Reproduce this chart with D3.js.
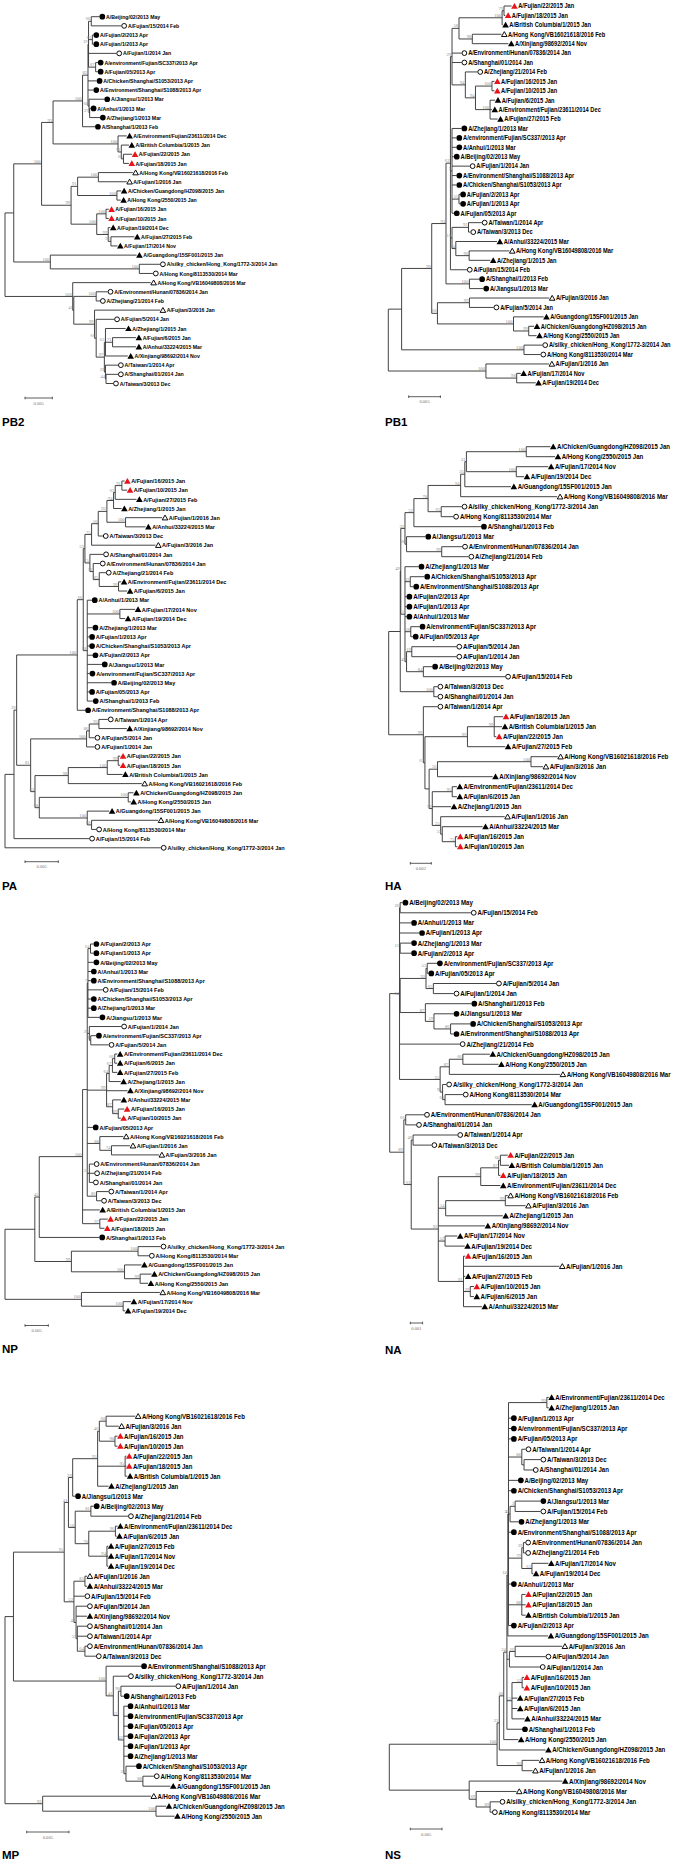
<!DOCTYPE html>
<html><head><meta charset="utf-8">
<script src="https://cdn.jsdelivr.net/npm/d3@7"></script>
<style>body{margin:0;background:#fff}</style>
</head><body><svg id="c" width="675" height="1861"></svg>
<script>
// ---------- DATA ----------
// strain code, label, group
const strains = [
["BJ02","A/Beijing/02/2013 May","c2013"],["FJ2","A/Fujian/2/2013 Apr","c2013"],["FJ1","A/Fujian/1/2013 Apr","c2013"],
["SC337","A/environment/Fujian/SC337/2013 Apr","c2013"],["FJ05","A/Fujian/05/2013 Apr","c2013"],
["S1053","A/Chicken/Shanghai/S1053/2013 Apr","c2013"],["S1088","A/Environment/Shanghai/S1088/2013 Apr","c2013"],
["JS1","A/Jiangsu/1/2013 Mar","c2013"],["AH1","A/Anhui/1/2013 Mar","c2013"],["ZJ1","A/Zhejiang/1/2013 Mar","c2013"],
["SH1","A/Shanghai/1/2013 Feb","c2013"],
["FJ15","A/Fujian/15/2014 Feb","c2014"],["FJ1b","A/Fujian/1/2014 Jan","c2014"],["FJ5","A/Fujian/5/2014 Jan","c2014"],
["HN","A/Environment/Hunan/07836/2014 Jan","c2014"],["ZJ21","A/Zhejiang/21/2014 Feb","c2014"],
["TW1","A/Taiwan/1/2014 Apr","c2014"],["SH01","A/Shanghai/01/2014 Jan","c2014"],["TW3","A/Taiwan/3/2013 Dec","c2014"],
["SK","A/silky_chicken/Hong_Kong/1772-3/2014 Jan","c2014"],["HK81","A/Hong Kong/8113530/2014 Mar","c2014"],
["E236","A/Environment/Fujian/23611/2014 Dec","t2015"],["BC","A/British Columbia/1/2015 Jan","t2015"],
["HZ","A/Chicken/Guangdong/HZ098/2015 Jan","t2015"],["HK25","A/Hong Kong/2550/2015 Jan","t2015"],
["FJ19","A/Fujian/19/2014 Dec","t2015"],["FJ27","A/Fujian/27/2015 Feb","t2015"],["FJ17","A/Fujian/17/2014 Nov","t2015"],
["GD15","A/Guangdong/15SF001/2015 Jan","t2015"],["ZJ15","A/Zhejiang/1/2015 Jan","t2015"],["FJ6","A/Fujian/6/2015 Jan","t2015"],
["AH33","A/Anhui/33224/2015 Mar","t2015"],["XJ","A/Xinjiang/98692/2014 Nov","t2015"],
["FJ16","A/Fujian/16/2015 Jan","fujian2015"],["FJ10","A/Fujian/10/2015 Jan","fujian2015"],
["FJ22","A/Fujian/22/2015 Jan","fujian2015"],["FJ18","A/Fujian/18/2015 Jan","fujian2015"],
["VB18","A/Hong Kong/VB16021618/2016 Feb","t2016"],["FJ1c","A/Fujian/1/2016 Jan","t2016"],
["VB08","A/Hong Kong/VB16049808/2016 Mar","t2016"],["FJ3","A/Fujian/3/2016 Jan","t2016"]
];
const panelNames = ["PB2","PB1","PA","HA","NP","NA","MP","NS"];
const scaleBarValues = [0.005,0.005,0.005,0.002,0.005,0.001,0.005,0.005];
const lengthUnit = 0.001; // branch lengths below are in units of 0.001 substitutions/site
// clade definitions: name=(child:length,...)bootstrap
const treePB2 = [
"cc=(BJ02:1.5,FJ15:5.5)66","cd=(FJ2:0.2,FJ1:0.2)61","ce=(SC337:0.4,FJ05:0.4)67",
"cb=(cc:0.5,cd:0.7,FJ1b:5.1,ce:1.3)19","cg=(AH1:0.2,ZJ1:1.9)27","cf=(JS1:2.8,cg:0.1)60",
"ca=(cb:0.1,S1053:1.6,S1088:1.0,cf:0.2)82","c=(ca:1.0,SH1:2.3)100",
"f=(FJ22:1.6,FJ18:1.0)66","e=(BC:1.4,f:0.4)71","d=(E236:1.6,e:0.6)100","b=(c:5.4,d:11.9)93",
"j=(VB18:6.3,FJ1c:5.2)100","k=(HZ:0.8,HK25:0.7)100","h=(j:3.8,k:7.2)91",
"l=(FJ16:0.5,FJ10:0.5)100","n=(FJ27:4.3,FJ17:1.2)91","m=(FJ19:0.4,n:0.5)99","i=(l:1.7,m:2.1)100",
"g=(h:1.2,i:4.7)99","a=(b:2.1,g:5.4)100","q=(SK:3.8,HK81:2.5)100","p=(GD15:15.8,q:16.3)100",
"u=(a:5.1,p:6.7)","u2=(HN:2.1,ZJ21:0.7)100","z1=(FJ6:4.3,AH33:4.3)71","ya=(ZJ15:3.7,z1:1.3,XJ:4.1)63",
"yc=(SH01:2.2,TW3:1.3)44","yb=(TW1:2.3,yc:0.1)29","y=(ya:0.2,yb:0.2)97","x=(FJ5:3.3,y:1.5)66",
"w=(FJ3:12.0,x:0.3)99","t=(u2:4.1,w:3.8)41","lo=(VB08:14.3,t:0.2)100","root=(u:1.6,lo:12.4)"];
const treePB1 = [
"kb=(FJ22:1.2,FJ18:0.2)79","ka=(kb:0.3,BC:0.1)100","kc=(VB18:4.6,XJ:5.7)98","k=(ka:6.8,kc:2.1)58",
"kd=(FJ16:0.4,FJ10:0.4)100","ke=(FJ6:0.8,E236:0.3,FJ27:1.2)100","kf=(kd:2.6,ke:2.3)94","kg=(ZJ21:1.9,kf:1.6)94",
"pa=(k:1.1,HN:1.5,SH01:1.5,kg:2.1)29","kh=(FJ2:0.2,FJ1:0.2)55",
"pb=(ZJ1:1.5,SC337:0.7,AH1:0.7,BJ02:0.3,FJ1b:2.8,S1088:0.7,S1053:0.7,kh:1.1,FJ05:0.3)5",
"kt=(TW1:2.1,TW3:0.3)93","kv=(VB08:6.35,ZJ15:3.35)96","kw=(AH33:6.5,kv:2.1)24","pc=(kt:2.6,kw:0.6)11",
"big=(pa:0.25,pb:0.25,pc:0.25,FJ15:2.6)62","n6=(SH1:1.55,JS1:2.2)100","n4=(big:0.7,n6:3.7)93",
"n7=(FJ3:12.6,FJ5:3.8)99","n9=(HZ:0.85,HK25:1.25)99","n8=(GD15:4.75,n9:2.4)100","n5=(n7:5.05,n8:12.0)60",
"n2=(n4:2.25,n5:0.9)99","n3=(SK:2.9,HK81:2.6)100","n1=(n2:4.75,n3:19.3)",
"lw=(FJ17:0.65,FJ19:3.0)98","lo=(FJ1c:9.95,lw:4.85)100","root=(n1:2.1,lo:15.4)"];
const treePA = [
"ma=(FJ16:0.4,FJ10:0.8)91","mb=(ma:1.0,FJ27:3.2)63","mc=(mb:0.25,ZJ15:1.2)94","md=(FJ1c:5.5,AH33:3.0)100",
"me=(mc:1.0,md:2.8)92","mf=(me:1.3,TW3:0.7)56","mg=(mf:1.0,FJ3:9.6)75",
"mh=(E236:0.4,FJ6:1.3)99","mi=(ZJ21:1.0,mh:2.9)85","mj=(HN:1.0,mi:0.9)72","mk=(SH01:2.0,mj:0.5)15",
"ml=(mg:1.0,mk:0.75)53","mm=(FJ17:2.3,FJ19:0.8)100",
"mn=(AH1:0.7,mm:4.9,ZJ1:0.8,FJ1:0.3,S1053:0.3,FJ2:0.8,JS1:2.2,SC337:0.35,BJ02:3.6,FJ05:0.3,SH1:0.85)58",
"mo=(ml:0.25,mn:0.6)66","big=(mo:0.9,S1088:1.2)100",
"pc=(TW1:1.35,XJ:4.2)92","pb=(pc:1.45,FJ5:0.8)86","pa=(pb:0.4,FJ1b:1.2)100",
"pf=(FJ22:0.3,FJ18:0.3)99","pe=(pf:1.65,BC:2.3)100","pd=(pe:5.85,VB18:11.05)98",
"pg=(HZ:0.8,HK25:0.4)100","pi=(VB08:10.0,HK81:0.7)68","ph=(GD15:3.3,pi:0.65)100",
"n5=(pg:13.35,ph:7.2)68","q=(pd:5.0,n5:0.65)63","n3=(pa:8.4,q:0.65)81","n2=(big:9.1,n3:2.1)39",
"n1=(n2:0.4,FJ15:11.3)","root=(n1:1.35,SK:23.4)"];
const treeHA = [
"xa=(HZ:2.3,HK25:2.75)100","xb=(FJ17:3.05,FJ19:0.75)100","xc=(xa:5.7,xb:4.75)31","xd=(xc:0.15,GD15:4.4)25",
"xe=(xd:0.4,VB08:9.2)94","xf=(SK:1.95,HK81:1.15)95","xg=(xe:3.1,xf:1.25)70","xx=(xg:1.35,SH1:6.4)52",
"yb=(HN:1.95,ZJ21:2.55)99","ya=(JS1:1.8,yb:3.35)26","v=(xx:0.85,ya:0.15)32",
"wa=(S1053:1.35,S1088:0.3)32","wb=(SC337:0.85,FJ05:0.2)58","wd=(FJ5:4.25,FJ1b:4.25)19",
"we=(BJ02:0.85,FJ15:7.8)84","wc=(wd:0.5,we:1.6)49",
"w=(ZJ1:1.3,wa:0.5,FJ2:0.15,FJ1:0.15,AH1:0.15,wb:0.55,wc:0.15)5","ua=(v:0.4,w:0.4)49",
"wf=(TW3:0.35,SH01:0.35)100","u=(ua:0.05,wf:3.2)",
"ld=(FJ18:0.85,BC:0.75,FJ22:0.2)99","lb=(ld:2.55,FJ27:3.6)99","lf=(VB18:2.55,FJ3:1.15)100",
"le=(lf:8.9,XJ:5.25)56","lh=(E236:0.45,FJ6:0.45)95","lk=(FJ16:0.2,FJ10:0.2)75","lj=(AH33:3.85,lk:1.25)55",
"li=(FJ1c:6.1,lj:0.15)35","lg=(lh:1.9,ZJ15:1.8,li:0.8)79","lc=(le:0.8,lg:0.3)","la=(lb:4.05,lc:0.4)67",
"l=(TW1:1.35,la:0.15)99","root=(u:1.1,l:3.3)"];
const treeNP = [
"ga=(FJ2:0.65,FJ1:0.65)64","gb=(ga:0.55,BJ02:1.2,AH1:0.65,S1088:0.65,FJ15:3.2,S1053:0.65,ZJ1:0.65,JS1:2.5)7",
"gc=(SC337:1.15,FJ5:3.85)8","gd=(FJ1b:6.85,gc:0.3)29",
"ge=(E236:0.55,FJ6:0.55)66","gf=(ge:0.5,FJ27:1.05)67","gg=(gf:0.7,ZJ15:2.5)64",
"gh=(FJ16:1.3,FJ10:0.55)89","gi=(AH33:1.8,gh:1.2)87","gj=(gg:0.55,XJ:4.5,gi:1.3)99",
"gk=(FJ1c:4.0,FJ3:10.2)74","gl=(VB18:5.05,gk:2.5)88","gm=(HN:0.95,ZJ21:1.05,SH01:0.8)21",
"gn=(TW1:2.55,TW3:1.0)86","gs=(gb:0.15,gd:0.45,gj:4.15,FJ05:1.2,gl:2.7,gm:0.45,gn:2.0)",
"gx=(FJ22:1.7,FJ18:1.0)97","g0=(gs:1.0,BC:3.7,gx:3.7)100","b=(g0:9.3,SH1:12.9)45",
"cs=(SK:4.85,HK81:2.35)100","ch=(HZ:2.45,HK25:1.7)99","cg=(GD15:3.65,ch:3.35)100","c=(cs:14.3,cg:11.4)99",
"a=(b:0.95,c:7.85)","lw=(FJ17:1.7,FJ19:0.45)100","lo=(VB08:16.85,lw:8.95)100","root=(a:6.4,lo:16.4)"];
const treeNA = [
"ua=(BJ02:0.2,FJ15:5.75)26","ub=(ZJ1:0.9,FJ2:0.9)15","nb=(SC337:0.8,FJ05:0.1)55","nc=(FJ5:5.1,FJ1b:1.65)65",
"na=(nb:0.1,nc:0.6)92","nf=(S1053:1.6,S1088:0.25)86","ne=(JS1:1.6,nf:1.35)59","nd=(SH1:3.75,ne:0.7)87",
"uc=(na:2.1,nd:2.05)24","ni=(HZ:2.2,HK25:2.9)66","nh=(ni:1.1,VB08:9.0)87","nk=(HK81:1.45,GD15:7.05)60",
"nj=(SK:0.3,nk:0.2)95","ng=(nh:0.75,nj:0.2)35",
"u=(ua:0.05,AH1:0.95,FJ1:1.6,ub:0.05,uc:0.05,ZJ21:4.9,ng:3.3)",
"la=(HN:1.5,SH01:0.85)66","lc=(TW1:3.6,TW3:1.5)49","ll=(FJ22:0.6,BC:0.7)60","lk=(ll:0.15,FJ18:0.15)87",
"le=(lk:1.45,E236:1.6)99","lg=(VB18:0.2,FJ3:1.65)99","lf=(lg:4.85,ZJ15:4.65)54","lh=(FJ17:1.0,FJ19:1.6)52",
"lj=(FJ10:0.3,FJ6:0.3)29","li=(FJ16:0.15,FJ1c:7.8,FJ27:0.15,lj:0.55,AH33:1.5)91",
"ld=(le:3.45,lf:0.6,XJ:3.8,lh:0.55,li:2.05)92","lb=(lc:0.15,ld:2.2)63","l=(la:0.15,lb:0.6)89",
"root=(u:0.8,l:1.15)"];
const treeMP = [
"md=(VB18:3.45,FJ3:1.5)60","me=(FJ16:0.3,FJ10:0.3)90","mb=(md:0.8,me:1.85)46","mc=(FJ22:0.15,FJ18:0.15,BC:0.25)95",
"ma=(mb:0.2,mc:3.25,ZJ15:1.3)93","vb=(ma:2.95,JS1:0.3)29","qa=(BJ02:0.35,ZJ21:4.4)81",
"qc=(E236:0.25,FJ6:0.15)96","qd=(FJ27:0.15,FJ17:0.15,FJ19:0.15)94","qb=(qc:3.15,qd:2.15)70",
"vc=(qa:1.85,qb:1.6)50","va=(vb:0.5,vc:0.8)41","pb=(FJ1c:0.25,AH33:0.25)85","pe=(HN:0.25,TW3:1.3)64",
"pd=(SH01:1.15,TW1:1.15,pe:0.9)52","pc=(FJ5:1.3,XJ:1.3,pd:0.15)43","pa=(pb:1.3,FJ15:1.25,pc:0.25)52",
"u=(va:0.5,pa:1.15)95","tf=(HK81:1.3,GD15:3.25)88","te=(S1053:1.2,tf:2.0)23",
"td=(AH1:0.45,SC337:0.45,FJ05:0.45,FJ2:0.45,FJ1:0.45,ZJ1:0.45,te:0.25)42","tc=(FJ1b:6.45,SH1:0.35)90",
"tb=(tc:0.3,td:0.65)31","ta=(SK:1.75,tb:0.6)41","t0=(S1088:4.15,ta:0.85)100","x=(u:6.0,t0:10.95)",
"rb=(HZ:1.2,HK25:2.2)100","ra=(VB08:12.8,rb:13.4)92","root=(x:1.0,ra:4.45)"];
const treeNS = [
"ka=(E236:0.3,ZJ15:0.3)99","kc=(TW3:2.6,SH01:1.4)","kb=(TW1:0.6,kc:0.35)88","ke=(JS1:4.0,FJ15:4.0)3",
"kd=(ke:0.8,ZJ1:1.35)37","kg=(HN:0.3,ZJ21:0.3)39","kh=(FJ17:2.6,FJ19:0.2)61","kf=(kg:0.25,kh:1.6)79",
"ki=(FJ22:0.6,FJ18:0.6,BC:0.6)88",
"nq=(ka:6.05,FJ1:0.4,SC337:0.4,FJ05:0.4,kb:2.1,BJ02:1.5,S1053:0.4,kd:0.25,S1088:0.4,kf:2.1,AH1:0.4,ki:2.1,FJ2:0.4)4",
"nd=(nq:0.1,GD15:6.35)10","nr=(FJ3:7.4,FJ5:4.8)26","ne=(nr:0.9,FJ1b:4.8)2","ns=(FJ16:0.3,FJ10:0.3)52",
"nf=(ns:1.6,FJ27:0.85,FJ6:0.85,AH33:2.0)12","nc=(nd:0.15,ne:0.4,nf:0.8,SH1:2.4)24","nb=(nc:0.5,HK25:2.3)30",
"na=(nb:0.7,HZ:7.3)23","ng=(VB18:2.7,FJ1c:1.65)90","n0=(na:0.35,ng:3.95)100",
"ly=(SK:1.5,HK81:0.3)89","lx=(VB08:6.35,ly:2.2)69","lw=(XJ:14.7,lx:1.1)","root=(n0:17.0,lw:12.6)"];
const trees = [treePB2,treePB1,treePA,treeHA,treeNP,treeNA,treeMP,treeNS];

// ---------- LAYOUT (positions / sizes) ----------
const layout = [
 {rootX:5,    y0:16.7,  dy:9.17, barPx:27.3, fs:5.2,  bar:[25,398],     lab:[2,426]},
 {rootX:388.3,y0:6,     dy:9.42, barPx:31.7, fs:5.7,  bar:[408.7,396.7],lab:[385,426]},
 {rootX:5,    y0:481,   dy:9.17, barPx:33.3, fs:5.5,  bar:[25,861.7],   lab:[2,890]},
 {rootX:388.7,y0:446.7, dy:10.0, barPx:21.0, fs:6.1,  bar:[410.3,863.3],lab:[385,890]},
 {rootX:5,    y0:944,   dy:9.17, barPx:23.3, fs:5.5,  bar:[25,1325.5],  lab:[2,1353]},
 {rootX:389.7,y0:902.7, dy:10.1, barPx:12.3, fs:6.1,  bar:[410.3,1323], lab:[385,1354]},
 {rootX:5,    y0:1416.2,dy:10.0, barPx:42.3, fs:6.05, bar:[26.7,1832],  lab:[2,1859]},
 {rootX:389.3,y0:1397.4,dy:10.37,barPx:31.7, fs:6.1,  bar:[410.3,1829], lab:[385,1859]}
];
const textStretch = 1.13; // glyphs drawn taller, squeezed horizontally to keep width

const strainMap = new Map(strains.map(s => [s[0], {label:s[1], group:s[2]}]));
function buildTree(defs){
  const clades = {};
  defs.forEach(d => {
    const m = d.match(/^(\w+)=\((.*)\)(\d*)$/);
    clades[m[1]] = {support:m[3], children:m[2].split(",").map(t => { const [id,len] = t.split(":"); return {id, len:+len}; })};
  });
  function make(id, len){
    if (clades[id]) return {name:id, length:len, support:clades[id].support, children:clades[id].children.map(c => make(c.id, c.len))};
    return {name:id, length:len};
  }
  return make("root", 0);
}

const svg = d3.select("#c");
svg.append("rect").attr("width",675).attr("height",1861).attr("fill","#fff");
const R = 2.85;
function marker(g, group, cx, cy){
  if (group === "c2013" || group === "c2014") {
    g.append("circle").attr("cx",cx).attr("cy",cy).attr("r", group==="c2013" ? R : R-0.45)
     .attr("fill", group==="c2013" ? "#000" : "#fff").attr("stroke","#000").attr("stroke-width", group==="c2013"?0:0.95);
  } else {
    const h = 3.1, w = 3.3;
    const open = group === "t2016";
    const s = open ? 0.85 : 1;
    const pts = [[cx, cy-h*s],[cx-w*s, cy+h*0.85*s],[cx+w*s, cy+h*0.85*s]];
    g.append("path").attr("d","M"+pts.map(p=>p.join(",")).join("L")+"Z")
     .attr("fill", open ? "#fff" : (group==="fujian2015" ? "#e8131b" : "#000"))
     .attr("stroke", open ? "#000" : "none").attr("stroke-width",0.95);
  }
}

panelNames.forEach((name, pi) => {
  const L = layout[pi];
  const g = svg.append("g");
  const root = d3.hierarchy(buildTree(trees[pi]));
  root.each(n => { n.dist = n.parent ? n.parent.dist + n.data.length : 0; });
  const leaves = root.leaves();
  const maxDist = d3.max(leaves, d => d.dist);
  const unitPx = L.barPx / (scaleBarValues[pi] / lengthUnit);
  const x = d3.scaleLinear().domain([0, maxDist]).range([L.rootX, L.rootX + maxDist*unitPx]);
  const y = d3.scalePoint().domain(leaves.map(d => d.data.name)).range([L.y0, L.y0 + (leaves.length-1)*L.dy]);
  root.eachAfter(n => {
    n.py = n.children ? (n.children[0].py + n.children[n.children.length-1].py)/2 : y(n.data.name);
  });
  const lines = g.append("g").attr("stroke","#3a3a3a").attr("stroke-width",0.95).attr("fill","none");
  root.descendants().forEach(n => {
    if (n.parent) lines.append("path").attr("d", `M${x(n.parent.dist)},${n.py}H${x(n.dist)}`);
    if (n.children) lines.append("path").attr("d", `M${x(n.dist)},${n.children[0].py}V${n.children[n.children.length-1].py}`);
  });
  // bootstrap values
  root.descendants().filter(n => n.children && n.parent && n.data.support).forEach(n => {
    g.append("text").attr("x", x(n.dist) - 1).attr("y", n.py - 0.9).attr("text-anchor","end")
     .attr("font-family","'Liberation Serif','DejaVu Serif',serif").attr("font-size",4.6).attr("fill","#8c8c8c")
     .text(n.data.support);
  });
  // leaves
  leaves.forEach(n => {
    const s = strainMap.get(n.data.name);
    const cx = x(n.dist) + R;
    marker(g, s.group, cx, n.py);
    g.append("text")
     .attr("transform", `translate(${cx + R + 0.9},${n.py + L.fs*textStretch*0.36}) scale(${1/textStretch},1)`)
     .attr("font-family","'Liberation Sans',Arial,sans-serif").attr("font-weight","bold")
     .attr("font-size", L.fs*textStretch).attr("fill","#000").text(s.label);
  });
  // scale bar
  const bx = L.bar[0], by = L.bar[1], bw = scaleBarValues[pi] / lengthUnit * unitPx;
  const sb = g.append("g").attr("stroke","#333").attr("stroke-width",0.8);
  sb.append("line").attr("x1",bx).attr("x2",bx+bw).attr("y1",by).attr("y2",by);
  sb.append("line").attr("x1",bx).attr("x2",bx).attr("y1",by-1.3).attr("y2",by+1.3);
  sb.append("line").attr("x1",bx+bw).attr("x2",bx+bw).attr("y1",by-1.3).attr("y2",by+1.3);
  g.append("text").attr("x",bx+bw/2).attr("y",by+6.5).attr("text-anchor","middle")
   .attr("font-family","'Liberation Serif',serif").attr("font-size",4.6).attr("fill","#777")
   .text(d3.format(".3f")(scaleBarValues[pi]));
  // panel label
  g.append("text").attr("x",L.lab[0]).attr("y",L.lab[1]).attr("font-family","'Liberation Sans',Arial,sans-serif")
   .attr("font-weight","bold").attr("font-size",11.5).attr("fill","#000").text(name);
});
</script></body></html>
